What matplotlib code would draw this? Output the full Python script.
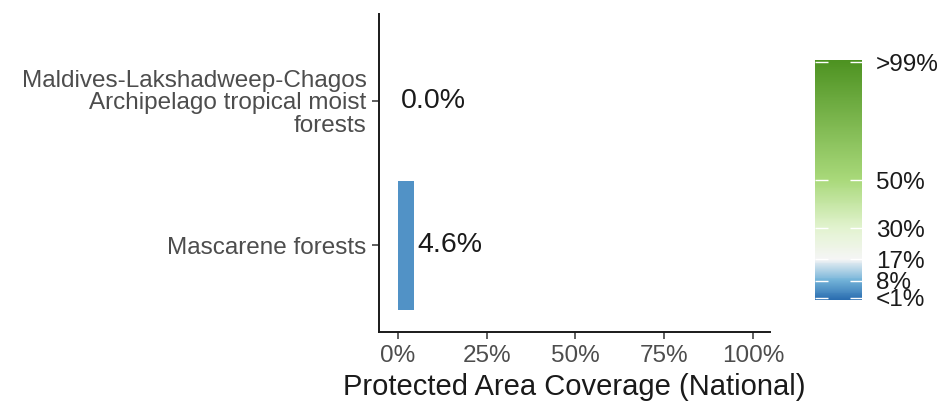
import matplotlib
matplotlib.use("Agg")
import matplotlib.pyplot as plt
from matplotlib.colors import LinearSegmentedColormap, Normalize
from matplotlib.colorbar import ColorbarBase

plt.rcParams["font.family"] = ["Liberation Sans", "DejaVu Sans"]

# Datos
ecoregions = ["Mascarene forests",
              "Maldives-Lakshadweep-Chagos\nArchipelago tropical moist\nforests"]
coverage = [4.6, 0.0]
x_ticks = [0, 25, 50, 75, 100]
x_labels = ["0%", "25%", "50%", "75%", "100%"]
cb_ticks = [1, 8, 17, 30, 50, 99]
cb_labels = ["<1%", "8%", "17%", "30%", "50%", ">99%"]

# Escala de color (azul -> blanco -> verde)
cmap = LinearSegmentedColormap.from_list("pa", [
    (0.00, "#2a6db0"),
    (0.08, "#72b2d8"),
    (0.17, "#f5f5f5"),
    (0.30, "#e2f3cf"),
    (0.50, "#a9d97a"),
    (1.00, "#4d9221"),
])
norm = Normalize(vmin=0, vmax=100)

fig = plt.figure(figsize=(9.42, 4.04), dpi=100)
ax = fig.add_axes([0.4023, 0.1782, 0.4151, 0.7871])

ypos = list(range(1, len(ecoregions) + 1))
ax.barh(ypos, coverage, height=0.89, color=[cmap(norm(v)) for v in coverage])

for y, v in zip(ypos, coverage):
    ax.annotate(f"{v:.1f}%", (v, y), xytext=(2, 0), textcoords="offset points",
                ha="left", va="center", fontsize=20.5, color="#1a1a1a")

ax.set_xlim(-5.35, 104.8)
ax.set_ylim(0.4, 2.6)
ax.set_yticks(ypos)
ax.set_yticklabels(ecoregions, fontsize=17.5, color="#4d4d4d", linespacing=1.02)
ax.set_xticks(x_ticks)
ax.set_xticklabels(x_labels, fontsize=17.5, color="#4d4d4d")
ax.tick_params(axis="both", length=5, width=1.1, color="#333333", pad=4)
for s in ["top", "right"]:
    ax.spines[s].set_visible(False)
for s in ["left", "bottom"]:
    ax.spines[s].set_linewidth(1.4)
    ax.spines[s].set_color("#1a1a1a")
ax.set_xlabel("Protected Area Coverage (National)", fontsize=21, color="#1a1a1a",
              labelpad=5)

# Barra de color
cax = fig.add_axes([0.865, 0.2574, 0.0499, 0.5941])
cb = ColorbarBase(cax, cmap=cmap, norm=norm, orientation="vertical")
cb.outline.set_visible(False)
cb.set_ticks(cb_ticks)
cb.set_ticklabels(cb_labels)
cax.tick_params(axis="y", which="both", direction="in", length=9, width=1,
                color="white", labelsize=17.5, labelcolor="#1a1a1a", pad=10,
                left=True, right=True)

fig.savefig("out.png", dpi=100)
